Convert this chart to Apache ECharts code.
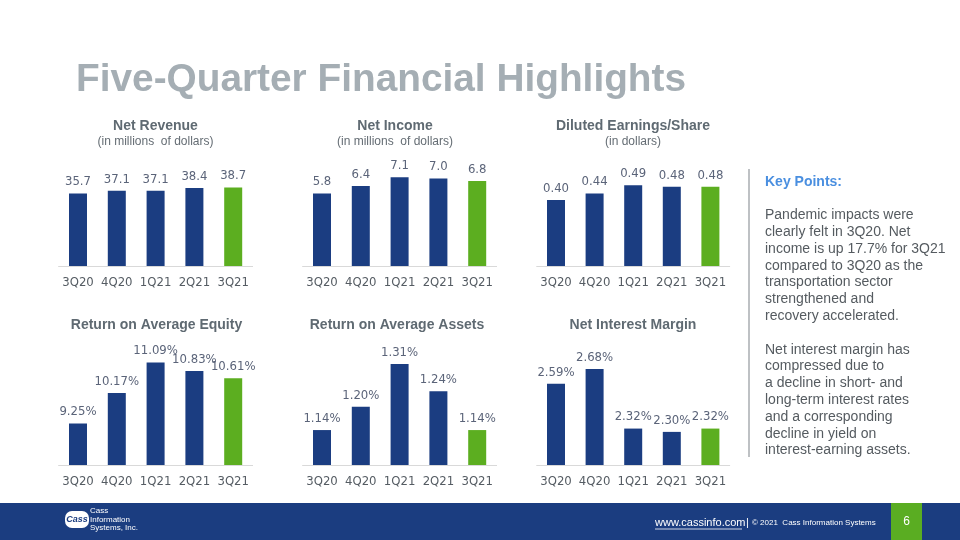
<!DOCTYPE html>
<html>
<head>
<meta charset="utf-8">
<script src="https://cdn.jsdelivr.net/npm/echarts@6/dist/echarts.min.js"></script>
<style>
html,body{margin:0;padding:0;background:#fff;}
#chart{width:960px;height:540px;}
</style>
</head>
<body>
<div id="chart"></div>
<script>
const categories = ['3Q20', '4Q20', '1Q21', '2Q21', '3Q21'];
const netRevenue = [35.7, 37.1, 37.1, 38.4, 38.7];
const netIncome = [5.8, 6.4, 7.1, 7.0, 6.8];
const dilutedEps = [0.40, 0.44, 0.49, 0.48, 0.48];
const returnOnEquity = [9.25, 10.17, 11.09, 10.83, 10.61];
const returnOnAssets = [1.14, 1.20, 1.31, 1.24, 1.14];
const netInterestMargin = [2.59, 2.68, 2.32, 2.30, 2.32];

const panelTitles = ['Net Revenue', 'Net Income', 'Diluted Earnings/Share',
  'Return on Average Equity', 'Return on Average Assets', 'Net Interest Margin'];
const panelSubtitles = ['(in millions  of dollars)', '(in millions  of dollars)', '(in dollars)', '', '', ''];
const keyPointsTitle = 'Key Points:';
const keyPointsText = [
  'Pandemic impacts were',
  'clearly felt in 3Q20. Net',
  'income is up 17.7% for 3Q21',
  'compared to 3Q20 as the',
  'transportation sector',
  'strengthened and',
  'recovery accelerated.',
  '',
  'Net interest margin has',
  'compressed due to',
  'a decline in short- and',
  'long-term interest rates',
  'and a corresponding',
  'decline in yield on',
  'interest-earning assets.'
];

const BLUE = '#1b3d81';
const GREEN = '#5cae20';
const LABEL_COLOR = '#5b6479';
const NUM_FONT = "'Liberation Sans Narrow', 'DejaVu Sans Condensed', 'Liberation Sans', sans-serif";
const TXT_FONT = "'Liberation Sans', 'DejaVu Sans', sans-serif";

const panels = [
  {data: netRevenue, dec: 1, pct: false, min: 0, max: 57.1},
  {data: netIncome, dec: 1, pct: false, min: 0, max: 9.28},
  {data: dilutedEps, dec: 2, pct: false, min: 0, max: 0.703},
  {data: returnOnEquity, dec: 2, pct: true, min: 8.0, max: 11.765},
  {data: returnOnAssets, dec: 2, pct: true, min: 1.05, max: 1.372},
  {data: netInterestMargin, dec: 2, pct: true, min: 2.1, max: 2.855}
];
const colLeft = [58.6, 302.6, 536.7];
const colWidth = [194, 194, 193];
const rowTop = [150, 340];
const rowHeight = [116, 125];
const titleX = [155.5, 395, 633, 156.5, 397, 633];

const grids = [], xAxes = [], yAxes = [], series = [], graphics = [];
panels.forEach((p, i) => {
  const c = i % 3, r = Math.floor(i / 3);
  grids.push({left: colLeft[c], top: rowTop[r], width: colWidth[c], height: rowHeight[r], containLabel: false});
  xAxes.push({
    type: 'category', gridIndex: i, data: categories,
    axisLine: {lineStyle: {color: '#d9d9d9', width: 1}},
    axisTick: {show: false},
    axisLabel: {color: '#555c63', fontSize: 13, fontFamily: NUM_FONT, margin: 10, interval: 0}
  });
  yAxes.push({
    type: 'value', gridIndex: i, min: p.min, max: p.max,
    show: false, splitLine: {show: false}
  });
  series.push({
    type: 'bar', xAxisIndex: i, yAxisIndex: i, data: p.data,
    barWidth: 18,
    itemStyle: {color: (d) => d.dataIndex === categories.length - 1 ? GREEN : BLUE},
    label: {
      show: true, position: 'top', distance: 5,
      color: LABEL_COLOR, fontSize: 13, fontFamily: NUM_FONT,
      formatter: (d) => d.value.toFixed(p.dec) + (p.pct ? '%' : '')
    },
    silent: true, animation: false
  });
  graphics.push({
    type: 'text', x: titleX[i], y: r === 0 ? 126 : 325,
    style: {text: panelTitles[i], textAlign: 'center', textVerticalAlign: 'middle',
      fill: '#5f6a72', font: "bold 14px " + TXT_FONT}
  });
  if (panelSubtitles[i]) {
    graphics.push({
      type: 'text', x: titleX[i], y: 142,
      style: {text: panelSubtitles[i], textAlign: 'center', textVerticalAlign: 'middle',
        fill: '#656d74', font: "12px " + TXT_FONT}
    });
  }
});

// header title
graphics.push({
  type: 'text', x: 76, y: 80,
  style: {text: 'Five-Quarter Financial Highlights', textAlign: 'left', textVerticalAlign: 'middle',
    fill: '#a5aeb4', font: "bold 38.8px " + TXT_FONT}
});
// key points
graphics.push({type: 'line', shape: {x1: 749, y1: 169, x2: 749, y2: 457}, style: {stroke: '#a9adb1', lineWidth: 1.5}});
graphics.push({
  type: 'text', x: 765, y: 182,
  style: {text: keyPointsTitle, textAlign: 'left', textVerticalAlign: 'middle', fill: '#4a8fe0', font: "bold 14px " + TXT_FONT}
});
graphics.push({
  type: 'text', x: 765, y: 207,
  style: {text: keyPointsText.join('\n'), textAlign: 'left', textVerticalAlign: 'top',
    fill: '#555b60', font: "14px " + TXT_FONT, lineHeight: 16.8}
});
// footer
graphics.push({type: 'rect', shape: {x: 0, y: 503, width: 960, height: 37}, style: {fill: '#1b3d80'}});
graphics.push({type: 'rect', shape: {x: 891, y: 503, width: 31, height: 37}, style: {fill: '#5aad22'}});
graphics.push({type: 'text', x: 906.5, y: 522, style: {text: '6', textAlign: 'center', textVerticalAlign: 'middle', fill: '#fff', font: "12px " + TXT_FONT}});
graphics.push({type: 'text', x: 655, y: 523, style: {text: 'www.cassinfo.com', textAlign: 'left', textVerticalAlign: 'middle', fill: '#fff', font: "11px " + TXT_FONT}});
graphics.push({type: 'line', shape: {x1: 655, y1: 529, x2: 742, y2: 529}, style: {stroke: '#fff', lineWidth: 0.8}});
graphics.push({type: 'text', x: 746, y: 523, style: {text: '|', textAlign: 'left', textVerticalAlign: 'middle', fill: '#fff', font: "11px " + TXT_FONT}});
graphics.push({type: 'text', x: 752, y: 523, style: {text: '\u00a9 2021  Cass Information Systems', textAlign: 'left', textVerticalAlign: 'middle', fill: '#fff', font: "8px " + TXT_FONT}});
// logo
graphics.push({type: 'rect', shape: {x: 65, y: 511, width: 24, height: 17, r: 7}, style: {fill: '#fff'}});
graphics.push({type: 'text', x: 77, y: 519.5, style: {text: 'Cass', textAlign: 'center', textVerticalAlign: 'middle', fill: '#1b3d80', font: "italic bold 9px " + TXT_FONT}});
graphics.push({type: 'text', x: 90, y: 507, style: {text: 'Cass\nInformation\nSystems, Inc.', textAlign: 'left', textVerticalAlign: 'top', fill: '#fff', font: "8px " + TXT_FONT, lineHeight: 8.5}});

const chart = echarts.init(document.getElementById('chart'), null, {renderer: 'canvas'});
chart.setOption({
  animation: false,
  grid: grids, xAxis: xAxes, yAxis: yAxes, series: series,
  graphic: graphics
});
</script>
</body>
</html>
